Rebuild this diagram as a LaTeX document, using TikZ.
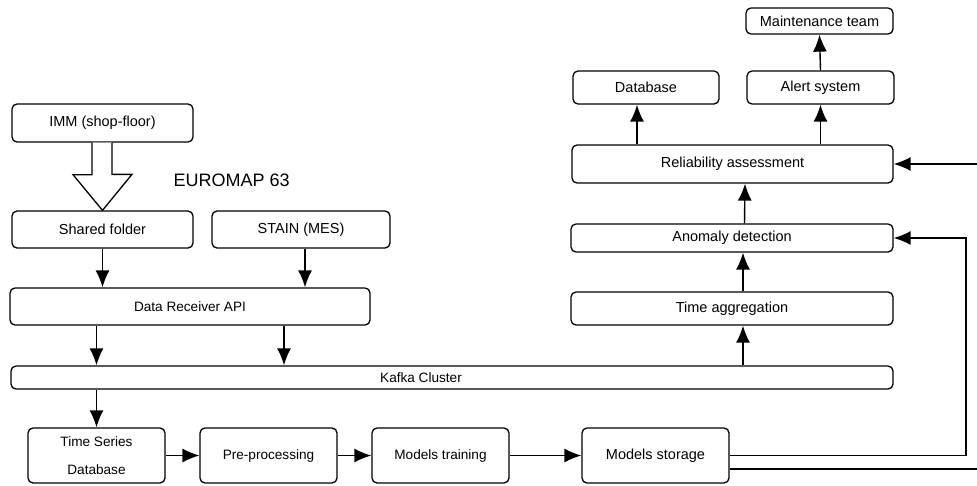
\documentclass[tikz,border=0pt]{standalone}
\usepackage{fontspec}
\setmainfont{Liberation Sans}
\usetikzlibrary{arrows.meta,calc}
\tikzset{
  box/.style={draw, line width=1.3pt, rounded corners=5pt, inner sep=0pt, align=center},
  txa/.style={font=\fontsize{14.5}{17}\selectfont},
  txb/.style={font=\fontsize{13.6}{16}\selectfont},
  arr/.style={line width=1.4pt, -{Latex[length=17pt,width=14pt]}},
  ln/.style={line width=1.4pt}
}
\begin{document}
\begin{tikzpicture}[x=1pt,y=-1pt]
\useasboundingbox (0,0) rectangle (977,485);
% left column
\node[box,txa,minimum width=181pt,minimum height=38pt] (imm) at (102.5,123) {IMM (shop-floor)};
\node[box,txa,minimum width=181pt,minimum height=37pt] (shared) at (102.5,229.5) {Shared folder};
\node[box,txa,minimum width=178pt,minimum height=37pt] (stain) at (301,229.5) {STAIN (MES)};
\node[box,txb,minimum width=360pt,minimum height=37pt] (dra) at (190,306.5) {Data Receiver API};
\node[box,minimum width=882pt,minimum height=23pt] (kafka) at (452,377.5) {};
\node[txb] (kafkalbl) at (421,377.5) {Kafka Cluster};
\node[box,txb,minimum width=137pt,minimum height=55pt,font=\fontsize{13.6}{28}\selectfont] (tsd) at (96.5,455.5) {Time Series\\Database};
\node[box,txb,minimum width=137pt,minimum height=55pt] (pre) at (268.5,455.5) {Pre-processing};
\node[box,txb,minimum width=137pt,minimum height=55pt] (train) at (440.5,455.5) {Models training};
\node[box,txa,minimum width=147pt,minimum height=55pt] (store) at (655.5,455.5) {Models storage};
% right column
\node[box,txa,minimum width=322pt,minimum height=28pt] (anom) at (732,238) {Anomaly detection};
\node[box,txa,minimum width=322pt,minimum height=33pt] (tagg) at (732,308.5) {Time aggregation};
\node[box,txa,minimum width=321pt,minimum height=38pt] (rel) at (732.5,164) {Reliability assessment};
\node[box,txa,minimum width=146pt,minimum height=33pt] (db) at (646,87.5) {Database};
\node[box,txa,minimum width=147pt,minimum height=33pt] (alert) at (820.5,87.5) {Alert system};
\node[box,txa,minimum width=147pt,minimum height=26pt] (maint) at (819.5,21) {Maintenance team};
% label
\node[font=\fontsize{18}{21}\selectfont, anchor=west] (euro) at (170,180.5) {EUROMAP 63};
% hollow arrow
\draw[line width=1.3pt, fill=white, line join=miter]
  ([xshift=-10.5pt]imm.south) -- ++(0,32) -- ++(-19,0) -- (shared.north) -- ++(29.5,-36) -- ++(-20,0) -- ([xshift=9.5pt]imm.south);
% connectors
\draw[arr] (shared.south) -- (shared.south |- dra.north);
\draw[arr] ([xshift=4pt]stain.south) -- ([xshift=4pt]stain.south |- dra.north);
\draw[arr] (dra.south -| tsd.north) -- (kafka.north -| tsd.north);
\draw[arr] ([xshift=94pt]dra.south) -- ([xshift=94pt]dra.south |- kafka.north);
\draw[arr] (kafka.south -| tsd.north) -- (tsd.north);
\draw[arr] (tsd.east) -- (pre.west);
\draw[arr] (pre.east) -- (train.west);
\draw[arr] (train.east) -- (store.west);
\draw[arr] ([xshift=11pt]tagg.south |- kafka.north) -- ([xshift=11pt]tagg.south);
\draw[arr] ([xshift=11pt]tagg.north) -- ([xshift=11pt]anom.south);
\draw[arr] ([xshift=12.5pt]anom.north) -- ([xshift=12.5pt]rel.south);
\draw[arr] ([xshift=-9pt]db.south |- rel.north) -- ([xshift=-9pt]db.south);
\draw[arr] (alert.south |- rel.north) -- (alert.south);
\draw[arr] (alert.north) -- (maint.south);
\coordinate (bend) at (966,238);
\draw[arr] (store.east) -| (bend) -- (anom.east);
\coordinate (offa) at (977,469);
\draw[ln] ([yshift=-13.5pt]store.east) -- (offa);
\coordinate (offb) at (977,164);
\draw[arr] (offb) -- (rel.east);
\end{tikzpicture}
\end{document}
